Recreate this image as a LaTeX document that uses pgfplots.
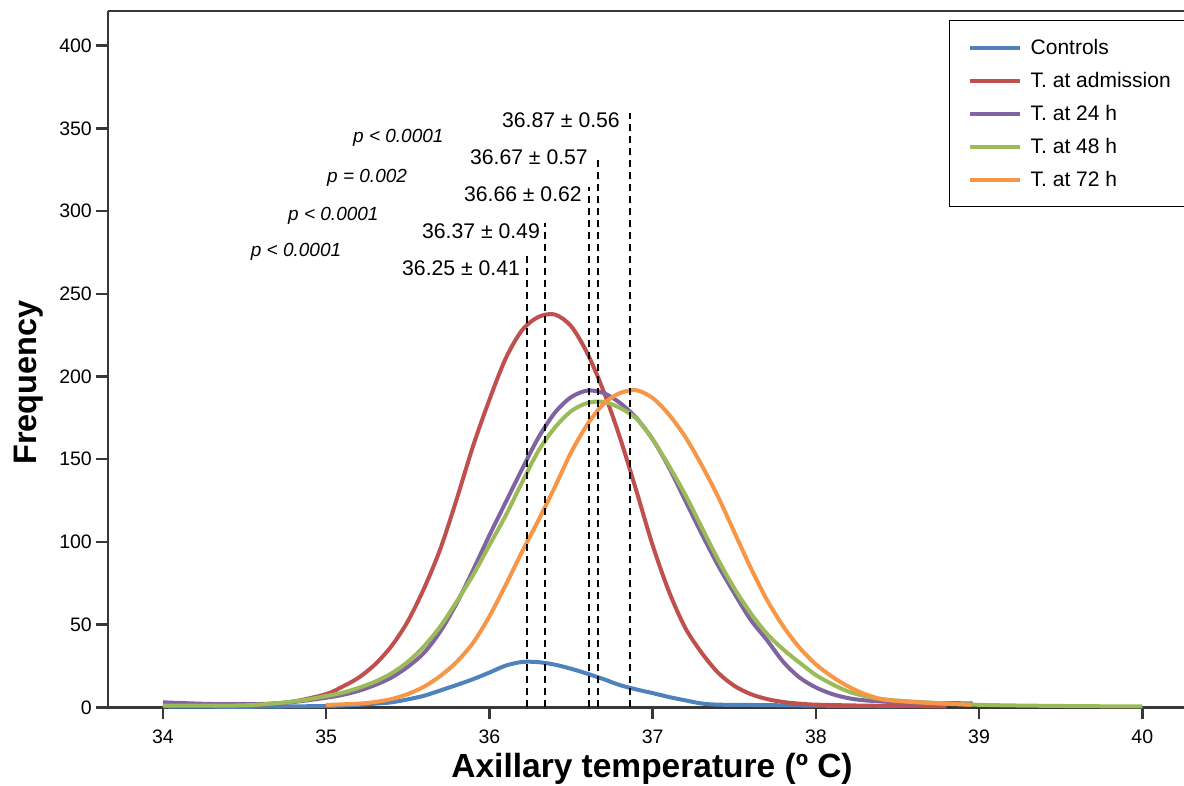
\documentclass[border=0pt]{standalone}
\usepackage{fontspec}
\setmainfont{Liberation Sans}
\usepackage{pgfplots}
\pgfplotsset{compat=1.18}

\definecolor{cBlue}{HTML}{4F81BD}
\definecolor{cRed}{HTML}{C0504D}
\definecolor{cPurple}{HTML}{8064A2}
\definecolor{cGreen}{HTML}{9BBB59}
\definecolor{cOrange}{HTML}{F79646}
\definecolor{axgray}{HTML}{383838}

% density curves (temperature, frequency)
\pgfplotstableread{
t f
34.0 0.5
34.5 0.3
35.0 0.8
35.2 1.5
35.3 2.2
35.4 3.0
35.5 4.8
35.6 7.0
35.7 10.2
35.8 13.5
35.9 17.0
36.0 21.0
36.1 25.2
36.2 27.4
36.3 27.3
36.4 25.8
36.5 23.3
36.6 20.3
36.7 17.0
36.8 13.4
36.9 10.8
37.0 8.6
37.1 6.2
37.2 4.2
37.3 2.3
37.4 1.6
37.6 1.4
38.0 1.0
38.5 0.5
}\controls

\pgfplotstableread{
t f
34.0 1.5
34.3 1.0
34.6 1.6
34.8 3.5
35.0 8.0
35.1 12.5
35.2 18
35.3 26
35.4 37
35.5 52
35.6 72
35.7 96
35.8 126
35.9 158
36.0 186
36.1 211
36.2 228
36.3 236
36.4 237.5
36.5 230.5
36.6 214
36.7 191
36.8 163
36.9 131
37.0 98
37.1 70
37.2 48
37.3 33
37.4 21
37.5 13
37.6 8
37.7 5
37.8 3.2
37.9 2.2
38.0 1.6
38.3 1.0
38.8 0.5
}\admission

\pgfplotstableread{
t f
34.0 3.0
34.3 2.0
34.6 2.0
34.8 3.2
35.0 5.8
35.1 7.5
35.2 10
35.3 13.5
35.4 18
35.5 24.5
35.6 33
35.7 46
35.8 63
35.9 83
36.0 104
36.1 124
36.2 144
36.3 163
36.4 178
36.5 187.5
36.6 191.5
36.7 190
36.8 184
36.9 175
37.0 162
37.1 145
37.2 125
37.3 105
37.4 86
37.5 69
37.6 53
37.7 40.7
37.8 27.5
37.9 18
38.0 12
38.1 8
38.2 5.5
38.3 4.2
38.5 3.0
38.7 2.6
38.96 2.4
}\hTwentyFour

\pgfplotstableread{
t f
34.0 1.0
34.5 1.2
34.8 3.5
35.0 6.8
35.1 8.8
35.2 11.8
35.3 15.5
35.4 20.5
35.5 27.5
35.6 37
35.7 49
35.8 64
35.9 80
36.0 98
36.1 116
36.2 136
36.3 155
36.4 169
36.5 179
36.6 184
36.7 184.7
36.8 181
36.9 174.5
37.0 162
37.1 146
37.2 128.5
37.3 109
37.4 89.5
37.5 72
37.6 57
37.7 44.5
37.8 35
37.9 27
38.0 19.5
38.1 14
38.2 9.5
38.3 6.8
38.4 5.0
38.6 3.4
39.0 1.5
39.5 0.8
40.0 0.5
}\hFortyEight

\pgfplotstableread{
t f
35.0 1.4
35.1 1.8
35.2 2.2
35.3 3.2
35.4 5.0
35.5 8.0
35.6 12.5
35.7 19
35.8 27.5
35.9 39
36.0 55
36.1 74
36.2 94
36.3 113
36.4 133
36.5 154
36.6 171
36.7 183.5
36.8 190
36.9 191.7
37.0 187
37.1 177
37.2 163.5
37.3 146.5
37.4 127.5
37.5 106
37.6 84.5
37.7 65
37.8 49
37.9 36
38.0 26
38.1 18.5
38.2 12.5
38.3 8.0
38.4 5.0
38.5 3.8
38.7 2.6
38.95 1.5
}\hSeventyTwo

\begin{document}
\begin{tikzpicture}
\begin{axis}[
  scale only axis,
  width=1076pt, height=696.3pt,
  xmin=33.663, xmax=40.256,
  ymin=0, ymax=421,
  clip=false,
  axis lines*=left,
  axis line style={axgray, line width=2.5pt},
  xtick={34,35,...,40},
  ytick={0,50,...,400},
  tick align=outside,
  major tick length=12pt,
  tick style={axgray, line width=2.5pt},
  /pgf/number format/assume math mode=true,
  ticklabel style={font=\fontsize{19.5}{22}\selectfont},
  yticklabel style={anchor=east, inner sep=0pt, xshift=-4pt},
  xticklabel style={anchor=north, inner sep=0pt, yshift=-10pt},
  xlabel={Axillary temperature (º C)},
  xlabel style={font=\fontsize{33.5}{38}\selectfont\bfseries,
    at={(rel axis cs:0.5056,0)}, anchor=base, yshift=-70pt},
  ylabel={Frequency},
  ylabel style={font=\fontsize{32.5}{36}\selectfont\bfseries,
    at={([xshift=-71.5pt]rel axis cs:0,0.4665)}, anchor=base},
  legend cell align=left,
  legend image code/.code={\draw[#1] (0pt,0pt) -- (50pt,0pt);},
  legend style={at={(rel axis cs:0.7816,1)}, anchor=north west,
    yshift=-9pt, draw=black, line width=1.3pt, fill=white,
    font=\fontsize{21}{23}\selectfont,
    nodes={inner sep=0pt}, inner xsep=18pt, inner ysep=18.5pt,
    row sep=16.3pt, column sep=9pt},
  every axis plot/.append style={line width=4pt, smooth},
]
\addplot[cBlue]   table[x=t, y=f] {\controls};
\addlegendentry{Controls}
\addplot[cRed]    table[x=t, y=f] {\admission};
\addlegendentry{T. at admission}
\addplot[cPurple] table[x=t, y=f] {\hTwentyFour};
\addlegendentry{T. at 24 h}
\addplot[cGreen]  table[x=t, y=f] {\hFortyEight};
\addlegendentry{T. at 48 h}
\addplot[cOrange] table[x=t, y=f] {\hSeventyTwo};
\addlegendentry{T. at 72 h\hspace{40pt}}

% mean markers
\addplot[black, line width=1.9pt, dash pattern=on 7.5pt off 4.5pt, sharp plot, forget plot]
  coordinates {(36.23,0) (36.23,274.6)};
\addplot[black, line width=1.9pt, dash pattern=on 7.5pt off 4.5pt, sharp plot, forget plot]
  coordinates {(36.34,0) (36.34,292.7)};
\addplot[black, line width=1.9pt, dash pattern=on 7.5pt off 4.5pt, sharp plot, forget plot]
  coordinates {(36.61,0) (36.61,314.5)};
\addplot[black, line width=1.9pt, dash pattern=on 7.5pt off 4.5pt, sharp plot, forget plot]
  coordinates {(36.665,0) (36.665,330.9)};
\addplot[black, line width=1.9pt, dash pattern=on 7.5pt off 4.5pt, sharp plot, forget plot]
  coordinates {(36.86,0) (36.86,359.3)};

\draw[axgray, line width=2.5pt] (rel axis cs:0,1) -- (rel axis cs:1,1);

\begin{scope}[every node/.style={inner sep=0pt, font=\fontsize{21.2}{24}\selectfont}]
\node[anchor=base east] at (axis cs:36.80,350.3) {36.87 ± 0.56};
\node[anchor=base east] at (axis cs:36.604,328) {36.67 ± 0.57};
\node[anchor=base east] at (axis cs:36.567,305.6) {36.66 ± 0.62};
\node[anchor=base east] at (axis cs:36.31,283.2) {36.37 ± 0.49};
\node[anchor=base east] at (axis cs:36.188,260.8) {36.25 ± 0.41};
\end{scope}
\begin{scope}[every node/.style={inner sep=0pt, font=\fontsize{19}{22}\selectfont\itshape}]
\node[anchor=base west] at (axis cs:35.164,341.2) {p < 0.0001};
\node[anchor=base west] at (axis cs:35.005,317.6) {p = 0.002};
\node[anchor=base west] at (axis cs:34.766,294.5) {p < 0.0001};
\node[anchor=base west] at (axis cs:34.537,272.3) {p < 0.0001};
\end{scope}
\end{axis}
\pgfresetboundingbox
\useasboundingbox (-108pt,-78.7pt) rectangle (1076pt,707.3pt);
\end{tikzpicture}
\end{document}
